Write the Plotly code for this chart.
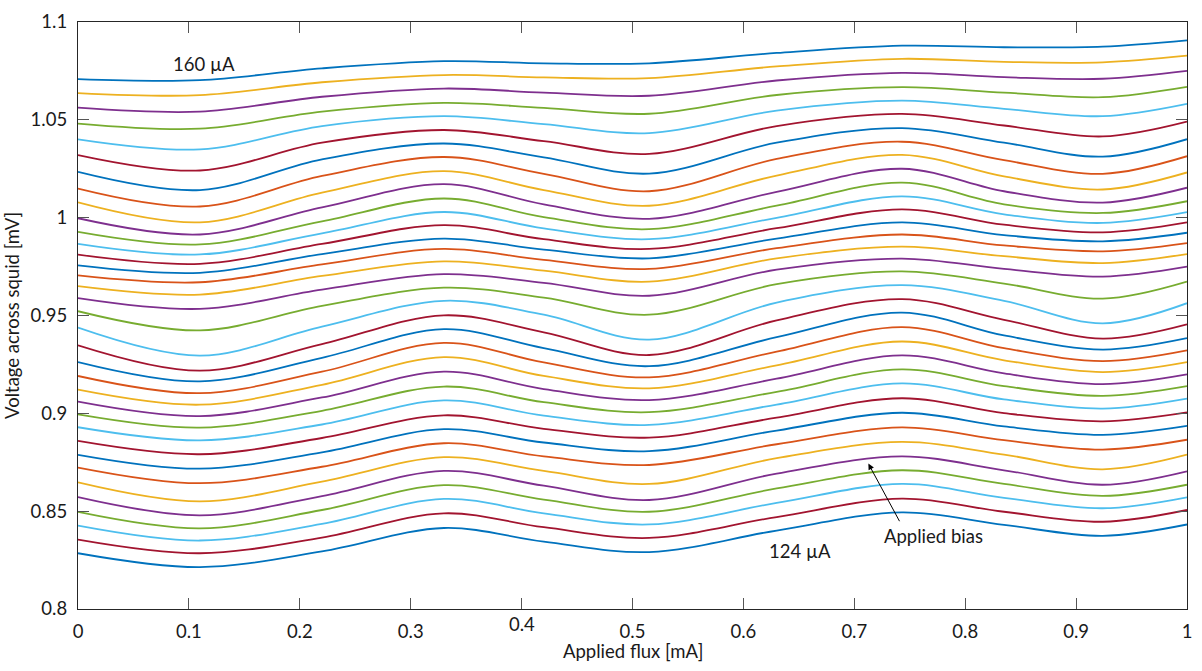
import plotly.graph_objects as go

# Applied flux sample positions [mA]
flux = [0.0, 0.110, 0.220, 0.330, 0.420, 0.515, 0.630, 0.743, 0.835, 0.924, 1.0]

# Voltage across squid [mV] at each flux sample, curves ordered top (160 uA) -> bottom (124 uA)
v_f000 = [1.0708, 1.0637, 1.0562, 1.0481, 1.0400, 1.0320, 1.0234, 1.0149, 1.0078, 0.9997, 0.9927, 0.9866,
          0.9811, 0.9756, 0.9705, 0.9650, 0.9589, 0.9522, 0.9438, 0.9348, 0.9262, 0.9191, 0.9121, 0.9060,
          0.8995, 0.8929, 0.8859, 0.8788, 0.8723, 0.8647, 0.8572, 0.8496, 0.8426, 0.8355, 0.8285]
v_f011 = [1.0703, 1.0626, 1.0542, 1.0455, 1.0349, 1.0241, 1.0141, 1.0057, 0.9976, 0.9914, 0.9863, 0.9812,
          0.9764, 0.9718, 0.9670, 0.9607, 0.9534, 0.9424, 0.9295, 0.9218, 0.9163, 0.9103, 0.9044, 0.8986,
          0.8927, 0.8862, 0.8791, 0.8717, 0.8643, 0.8550, 0.8479, 0.8412, 0.8350, 0.8285, 0.8214]
v_f022 = [1.0763, 1.0692, 1.0618, 1.0542, 1.0468, 1.0383, 1.0298, 1.0213, 1.0128, 1.0052, 0.9981, 0.9920,
          0.9866, 0.9814, 0.9761, 0.9702, 0.9632, 0.9549, 0.9443, 0.9354, 0.9284, 0.9213, 0.9146, 0.9081,
          0.9013, 0.8943, 0.8874, 0.8801, 0.8727, 0.8651, 0.8577, 0.8506, 0.8435, 0.8365, 0.8294]
v_f033 = [1.0800, 1.0729, 1.0660, 1.0587, 1.0519, 1.0448, 1.0379, 1.0310, 1.0238, 1.0171, 1.0098, 1.0029,
          0.9962, 0.9893, 0.9840, 0.9777, 0.9711, 0.9642, 0.9575, 0.9501, 0.9430, 0.9360, 0.9287, 0.9213,
          0.9137, 0.9066, 0.8990, 0.8919, 0.8847, 0.8776, 0.8706, 0.8633, 0.8563, 0.8489, 0.8414]
v_f042 = [1.0789, 1.0717, 1.0639, 1.0561, 1.0478, 1.0391, 1.0308, 1.0224, 1.0141, 1.0068, 1.0003, 0.9945,
          0.9890, 0.9837, 0.9784, 0.9729, 0.9667, 0.9591, 0.9504, 0.9414, 0.9333, 0.9260, 0.9191, 0.9124,
          0.9057, 0.8988, 0.8921, 0.8851, 0.8780, 0.8706, 0.8630, 0.8559, 0.8489, 0.8418, 0.8344]
v_f052 = [1.0789, 1.0713, 1.0623, 1.0531, 1.0432, 1.0326, 1.0225, 1.0135, 1.0061, 0.9994, 0.9941, 0.9890,
          0.9840, 0.9792, 0.9738, 0.9673, 0.9601, 0.9504, 0.9377, 0.9298, 0.9241, 0.9184, 0.9128, 0.9068,
          0.9006, 0.8941, 0.8876, 0.8807, 0.8736, 0.8639, 0.8557, 0.8497, 0.8432, 0.8363, 0.8291]
v_f063 = [1.0842, 1.0773, 1.0701, 1.0627, 1.0547, 1.0468, 1.0383, 1.0300, 1.0215, 1.0132, 1.0061, 0.9999,
          0.9946, 0.9893, 0.9844, 0.9792, 0.9734, 0.9660, 0.9566, 0.9475, 0.9389, 0.9315, 0.9245, 0.9177,
          0.9110, 0.9045, 0.8978, 0.8912, 0.8842, 0.8771, 0.8692, 0.8616, 0.8542, 0.8470, 0.8401]
v_f074 = [1.0879, 1.0812, 1.0740, 1.0667, 1.0598, 1.0530, 1.0458, 1.0388, 1.0321, 1.0250, 1.0179, 1.0109,
          1.0042, 0.9976, 0.9914, 0.9852, 0.9791, 0.9725, 0.9655, 0.9584, 0.9515, 0.9441, 0.9367, 0.9296,
          0.9225, 0.9153, 0.9077, 0.9003, 0.8928, 0.8854, 0.8780, 0.8709, 0.8639, 0.8564, 0.8494]
v_f084 = [1.0871, 1.0796, 1.0718, 1.0639, 1.0556, 1.0471, 1.0383, 1.0294, 1.0211, 1.0135, 1.0068, 1.0017,
          0.9964, 0.9911, 0.9858, 0.9803, 0.9738, 0.9663, 0.9575, 0.9478, 0.9398, 0.9333, 0.9271, 0.9204,
          0.9139, 0.9071, 0.9001, 0.8933, 0.8863, 0.8789, 0.8709, 0.8639, 0.8568, 0.8497, 0.8430]
v_f092 = [1.0874, 1.0794, 1.0710, 1.0616, 1.0519, 1.0415, 1.0312, 1.0224, 1.0144, 1.0077, 1.0024, 0.9973,
          0.9925, 0.9879, 0.9828, 0.9768, 0.9699, 0.9586, 0.9460, 0.9382, 0.9326, 0.9267, 0.9211, 0.9149,
          0.9089, 0.9024, 0.8959, 0.8890, 0.8815, 0.8714, 0.8635, 0.8578, 0.8515, 0.8446, 0.8374]
v_f100 = [1.0906, 1.0828, 1.0750, 1.0669, 1.0582, 1.0491, 1.0401, 1.0314, 1.0231, 1.0153, 1.0084, 1.0028,
          0.9976, 0.9923, 0.9870, 0.9814, 0.9750, 0.9673, 0.9563, 0.9455, 0.9384, 0.9322, 0.9262, 0.9199,
          0.9139, 0.9075, 0.9005, 0.8936, 0.8865, 0.8789, 0.8704, 0.8635, 0.8571, 0.8506, 0.8432]

# MATLAB default colour order, as seen top -> bottom
B, O, Y, P, G, L, R = "#0072BD", "#D95319", "#EDB120", "#7E2F8E", "#77AC30", "#4DBEEE", "#A2142F"
curve_colors = [B, Y, P, G, L, R] + [B, O, Y, P, G, L, R] * 4 + [B]

x_ticks = [0, 0.1, 0.2, 0.3, 0.4, 0.5, 0.6, 0.7, 0.8, 0.9, 1]
x_ticktext = ["0", "0.1", "0.2", "0.3", "", "0.5", "0.6", "0.7", "0.8", "0.9", "1"]
y_ticks = [0.8, 0.85, 0.9, 0.95, 1.0, 1.05, 1.1]
y_ticktext = ["0.8", "0.85", "0.9", "0.95", "1", "1.05", "1.1"]

columns = [v_f000, v_f011, v_f022, v_f033, v_f042, v_f052, v_f063, v_f074, v_f084, v_f092, v_f100]

FONT = "Lato"
FS = 18.5
AX = "#262626"

fig = go.Figure()
for i, c in enumerate(curve_colors):
    fig.add_trace(go.Scatter(
        x=flux, y=[col[i] for col in columns], mode="lines",
        line=dict(color=c, width=1.8, shape="spline", smoothing=1.0),
        showlegend=False, hoverinfo="skip"))

axis_common = dict(showline=True, linecolor=AX, linewidth=1.3, mirror="ticks",
                   ticks="inside", ticklen=11, tickwidth=1, tickcolor="#555555",
                   showgrid=False, zeroline=False,
                   tickfont=dict(family=FONT, size=FS, color="#1a1a1a"))

fig.update_layout(
    width=1202, height=671,
    margin=dict(l=78, r=10, t=14, b=62),
    paper_bgcolor="white", plot_bgcolor="white",
    xaxis=dict(range=[0, 1], tickmode="array", tickvals=x_ticks, ticktext=x_ticktext,
               ticklabelstandoff=6, **axis_common),
    yaxis=dict(range=[0.8, 1.1], tickmode="array", tickvals=y_ticks, ticktext=y_ticktext,
               ticklabelstandoff=6, **axis_common),
)

ann_font = dict(family=FONT, size=FS, color="#1a1a1a")
fig.add_annotation(x=0.4, y=-0.0252, xref="x", yref="paper", text="0.4", showarrow=False,
                   font=ann_font, xanchor="center", yanchor="middle")
fig.add_annotation(x=0.5, y=-0.072, xref="paper", yref="paper", text="Applied flux [mA]",
                   showarrow=False, font=ann_font, xanchor="center", yanchor="middle")
fig.add_annotation(x=-0.060, y=0.5, xref="paper", yref="paper", text="Voltage across squid [mV]",
                   showarrow=False, font=ann_font, textangle=-90, xanchor="center", yanchor="middle")
fig.add_annotation(x=0.114, y=1.0783, text="160 µA", showarrow=False, font=ann_font,
                   xanchor="center", yanchor="middle")
fig.add_annotation(x=0.6508, y=0.8295, text="124 µA", showarrow=False, font=ann_font,
                   xanchor="center", yanchor="middle")
fig.add_annotation(x=0.7711, y=0.8375, text="Applied bias", showarrow=False, font=ann_font,
                   xanchor="center", yanchor="middle")
fig.add_annotation(x=0.7127, y=0.8743, ax=0.7415, ay=0.8441, axref="x", ayref="y", text="",
                   showarrow=True, arrowhead=2, arrowsize=1.2, arrowwidth=1, arrowcolor="black")

fig.write_html("out.html")
